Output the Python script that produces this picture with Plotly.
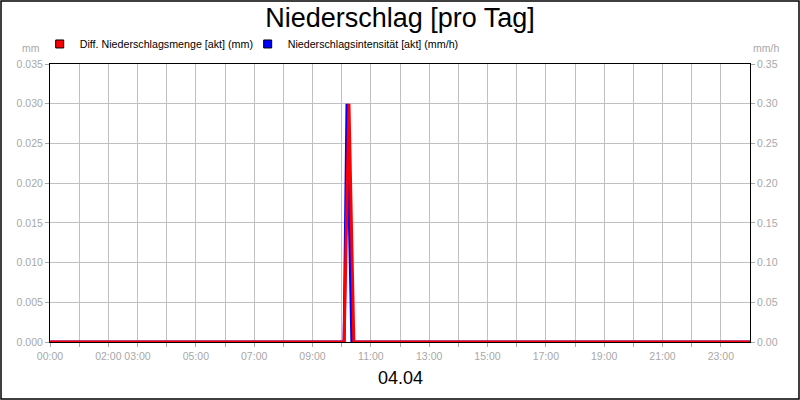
import plotly.graph_objects as go

# data (04.04, readings around the rain event)
day = "2024-04-04"
menge_times = [day + " 00:00", day + " 10:05", day + " 10:15", day + " 10:25", "2024-04-05 00:00"]
menge_mm = [0.0, 0.0, 0.030, 0.0, 0.0]

intens_times = [day + " 00:00", day + " 10:05", day + " 10:11", day + " 10:21", "2024-04-05 00:00"]
intens_mmh = [0.0, 0.0, 0.30, 0.0, 0.0]

hours = list(range(24))
labelled = [0, 2, 3, 5, 7, 9, 11, 13, 15, 17, 19, 21, 23]
tick_vals = [f"{day} {h:02d}:00" for h in hours]
tick_text = [f"{h:02d}:00" if h in labelled else "" for h in hours]

RED = "#ff0000"
BLUE = "#0000ff"
GRID = "#c0c0c0"
TICKC = "#a8a8a8"
FONT = "Liberation Sans, Arial, sans-serif"

fig = go.Figure()

# intensity on the base y axis (right side), amount on the overlaying axis so red sits on top
fig.add_trace(go.Scatter(x=intens_times, y=intens_mmh, mode="lines",
                         line=dict(color=BLUE, width=3), showlegend=False))
fig.add_trace(go.Scatter(x=menge_times, y=menge_mm, mode="lines", yaxis="y2",
                         line=dict(color=RED, width=3), showlegend=False))

# legend entries with square swatches, one legend box each so they can be placed freely
fig.add_trace(go.Scatter(x=[None], y=[None], mode="markers", name="Diff. Niederschlagsmenge [akt] (mm)",
                         legend="legend",
                         marker=dict(symbol="square", size=8, color=RED, line=dict(color="black", width=1))))
fig.add_trace(go.Scatter(x=[None], y=[None], mode="markers", name="Niederschlagsintensität [akt] (mm/h)",
                         legend="legend2",
                         marker=dict(symbol="square", size=8, color=BLUE, line=dict(color="black", width=1))))

legend_style = dict(orientation="h", y=1.072, xanchor="left", yanchor="middle",
                    font=dict(size=10.7, color="black"), bgcolor="rgba(0,0,0,0)", itemwidth=30)

fig.update_layout(
    width=800, height=400,
    margin=dict(l=50, r=50, t=64, b=58),
    paper_bgcolor="white", plot_bgcolor="white",
    font=dict(family=FONT, size=10, color="black"),
    title=dict(text="Niederschlag [pro Tag]", x=0.5, xanchor="center", y=0.955, yanchor="middle",
               font=dict(size=27, color="black", family=FONT)),
    legend=dict(x=-0.0147, **legend_style),
    legend2=dict(x=0.2824, **legend_style),
    xaxis=dict(type="date", range=[day + " 00:00", "2024-04-05 00:00"],
               tickvals=tick_vals, ticktext=tick_text, tickangle=0,
               showgrid=True, gridcolor=GRID, gridwidth=1,
               showline=True, linecolor="black", linewidth=1, mirror=True,
               ticks="outside", ticklen=4, tickcolor=TICKC,
               tickfont=dict(size=10.5, color=TICKC), zeroline=False),
    yaxis=dict(range=[0, 0.35], dtick=0.05, tickformat=".2f", side="right",
               showgrid=True, gridcolor=GRID, gridwidth=1,
               showline=True, linecolor="black", linewidth=1, mirror=True,
               ticks="outside", ticklen=4, tickcolor=TICKC,
               tickfont=dict(size=10.5, color=TICKC), zeroline=False),
    yaxis2=dict(range=[0, 0.035], dtick=0.005, tickformat=".3f", overlaying="y", side="left",
                showgrid=False, showline=False,
                ticks="outside", ticklen=4, tickcolor=TICKC,
                tickfont=dict(size=10.5, color=TICKC), zeroline=False),
    shapes=[dict(type="rect", xref="paper", yref="paper", x0=-49 / 700, x1=1 + 49 / 700,
                 y0=-57 / 278, y1=1 + 63 / 278, line=dict(color="black", width=1.5))],
    annotations=[
        dict(text="mm", xref="paper", yref="paper", x=-0.012, y=1.058, xanchor="right", yanchor="middle",
             showarrow=False, font=dict(size=10.5, color=TICKC)),
        dict(text="mm/h", xref="paper", yref="paper", x=1.002, y=1.058, xanchor="left", yanchor="middle",
             showarrow=False, font=dict(size=10.5, color=TICKC)),
        dict(text="04.04", xref="paper", yref="paper", x=0.5, y=-0.13, xanchor="center", yanchor="middle",
             showarrow=False, font=dict(size=18, color="black")),
    ],
)

fig.write_html("out.html", config={"displayModeBar": False},
               post_script="document.body.style.margin='0';")
